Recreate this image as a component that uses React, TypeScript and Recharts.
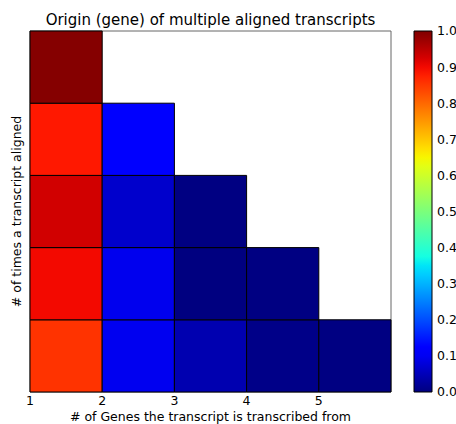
import React from 'react';
import { ComposedChart, XAxis, YAxis, ReferenceArea } from 'recharts';

// Number of genes a transcript is transcribed from (left edge of each column)
const geneCounts = [1, 2, 3, 4, 5];
// Row positions, bottom to top
const alignRows = [0, 1, 2, 3, 4];
// Fraction for each cell, one list per row from bottom to top
const fractionsRow0 = [0.856, 0.097, 0.042, 0.007, 0.002];
const fractionsRow1 = [0.9, 0.095, 0.0, 0.002];
const fractionsRow2 = [0.93, 0.066, 0.002];
const fractionsRow3 = [0.885, 0.12];
const fractionsRow4 = [0.995];
const fractionRows = [fractionsRow0, fractionsRow1, fractionsRow2, fractionsRow3, fractionsRow4];

const xTickLabels = [1, 2, 3, 4, 5];
const colorbarTicks = [0, 0.1, 0.2, 0.3, 0.4, 0.5, 0.6, 0.7, 0.8, 0.9, 1.0];

const FONT = '"DejaVu Sans", sans-serif';
const LABEL_SIZE = 12.5;

// Piecewise-linear jet colormap segments
type Seg = [number, number][];
const jetR: Seg = [[0, 0], [0.35, 0], [0.66, 1], [0.89, 1], [1, 0.5]];
const jetG: Seg = [[0, 0], [0.125, 0], [0.375, 1], [0.64, 1], [0.91, 0], [1, 0]];
const jetB: Seg = [[0, 0.5], [0.11, 1], [0.34, 1], [0.65, 0], [1, 0]];

function interp(seg: Seg, v: number): number {
  const t = Math.max(0, Math.min(1, v));
  for (let i = 1; i < seg.length; i++) {
    const [x0, y0] = seg[i - 1];
    const [x1, y1] = seg[i];
    if (t <= x1) return x1 === x0 ? y1 : y0 + ((t - x0) / (x1 - x0)) * (y1 - y0);
  }
  return seg[seg.length - 1][1];
}

function jet(v: number): string {
  const h = (c: number) => Math.round(c * 255).toString(16).padStart(2, '0');
  return `#${h(interp(jetR, v))}${h(interp(jetG, v))}${h(interp(jetB, v))}`;
}

const cells = fractionRows.flatMap((row, r) =>
  row.map((value, c) => ({
    x1: geneCounts[c],
    x2: geneCounts[c] + 1,
    y1: alignRows[r],
    y2: alignRows[r] + 1,
    value,
  }))
);

const gradientStops = Array.from({ length: 41 }, (_, i) => i / 40);

export default function App() {
  return (
    <div style={{ position: 'absolute', left: 0, top: 0, width: 456, height: 424, background: '#fff', fontFamily: FONT }}>
      <div
        style={{
          position: 'absolute',
          left: 30,
          width: 361,
          top: 11,
          textAlign: 'center',
          fontSize: 15,
          lineHeight: '18px',
          color: '#000',
          whiteSpace: 'nowrap',
        }}
      >
        Origin (gene) of multiple aligned transcripts
      </div>
      <div style={{ position: 'absolute', left: 0, top: 0 }}>
        <ComposedChart width={400} height={424} data={cells} margin={{ top: 31, right: 9, bottom: 0, left: 0 }}>
          <XAxis
            type="number"
            dataKey="x1"
            domain={[1, 6]}
            ticks={xTickLabels}
            allowDataOverflow
            axisLine={false}
            tickLine={false}
            tickSize={3}
            tickMargin={1}
            height={32}
            tick={{ fill: '#000', fontSize: LABEL_SIZE, fontFamily: FONT }}
            label={{
              value: '# of Genes the transcript is transcribed from',
              position: 'insideBottom',
              offset: 3,
              fill: '#000',
              fontSize: LABEL_SIZE,
              fontFamily: FONT,
            }}
          />
          <XAxis
            xAxisId="top"
            orientation="top"
            type="number"
            domain={[1, 6]}
            ticks={[2, 3, 4, 5]}
            allowDataOverflow
            mirror
            height={0}
            axisLine={false}
            tick={false}
            tickSize={4}
            tickLine={{ stroke: '#000' }}
          />
          <YAxis
            type="number"
            dataKey="y1"
            domain={[0, 5]}
            allowDataOverflow
            width={30}
            axisLine={false}
            tickLine={false}
            tick={false}
            label={{
              value: '# of times a transcript aligned',
              angle: -90,
              position: 'insideLeft',
              offset: 17,
              fill: '#000',
              fontSize: LABEL_SIZE,
              fontFamily: FONT,
              style: { textAnchor: 'middle' },
            }}
          />
          <ReferenceArea x1={1} x2={6} y1={0} y2={5} fill="none" stroke="#666" strokeWidth={1} ifOverflow="visible" />
          {cells.map((cell, i) => (
            <ReferenceArea
              key={i}
              x1={cell.x1}
              x2={cell.x2}
              y1={cell.y1}
              y2={cell.y2}
              fill={jet(cell.value)}
              fillOpacity={1}
              stroke="#000"
              strokeWidth={1}
              ifOverflow="visible"
            />
          ))}
        </ComposedChart>
      </div>
      <div style={{ position: 'absolute', left: 400, top: 0 }}>
        <ComposedChart width={56} height={424} data={[{ x: 0, y: 0 }]} margin={{ top: 31, right: 0, bottom: 32, left: 14 }}>
          <defs>
            <linearGradient id="jetBar" x1="0" y1="1" x2="0" y2="0">
              {gradientStops.map((s) => (
                <stop key={s} offset={s} stopColor={jet(s)} />
              ))}
            </linearGradient>
          </defs>
          <XAxis type="number" dataKey="x" domain={[0, 1]} hide />
          <YAxis
            yAxisId="marks"
            orientation="right"
            type="number"
            domain={[0, 1]}
            ticks={colorbarTicks}
            mirror
            width={0}
            axisLine={false}
            tick={false}
            tickSize={4}
            tickLine={{ stroke: '#000' }}
          />
          <YAxis
            orientation="right"
            type="number"
            dataKey="y"
            domain={[0, 1]}
            ticks={colorbarTicks}
            interval={0}
            width={24}
            axisLine={false}
            tickLine={false}
            tickSize={3}
            tickMargin={2}
            tickFormatter={(v: number) => v.toFixed(1)}
            tick={{ fill: '#000', fontSize: LABEL_SIZE, fontFamily: FONT, textAnchor: 'start' }}
          />
          <ReferenceArea x1={0} x2={1} y1={0} y2={1} fill="url(#jetBar)" fillOpacity={1} stroke="#000" strokeWidth={1} ifOverflow="visible" />
        </ComposedChart>
      </div>
    </div>
  );
}
